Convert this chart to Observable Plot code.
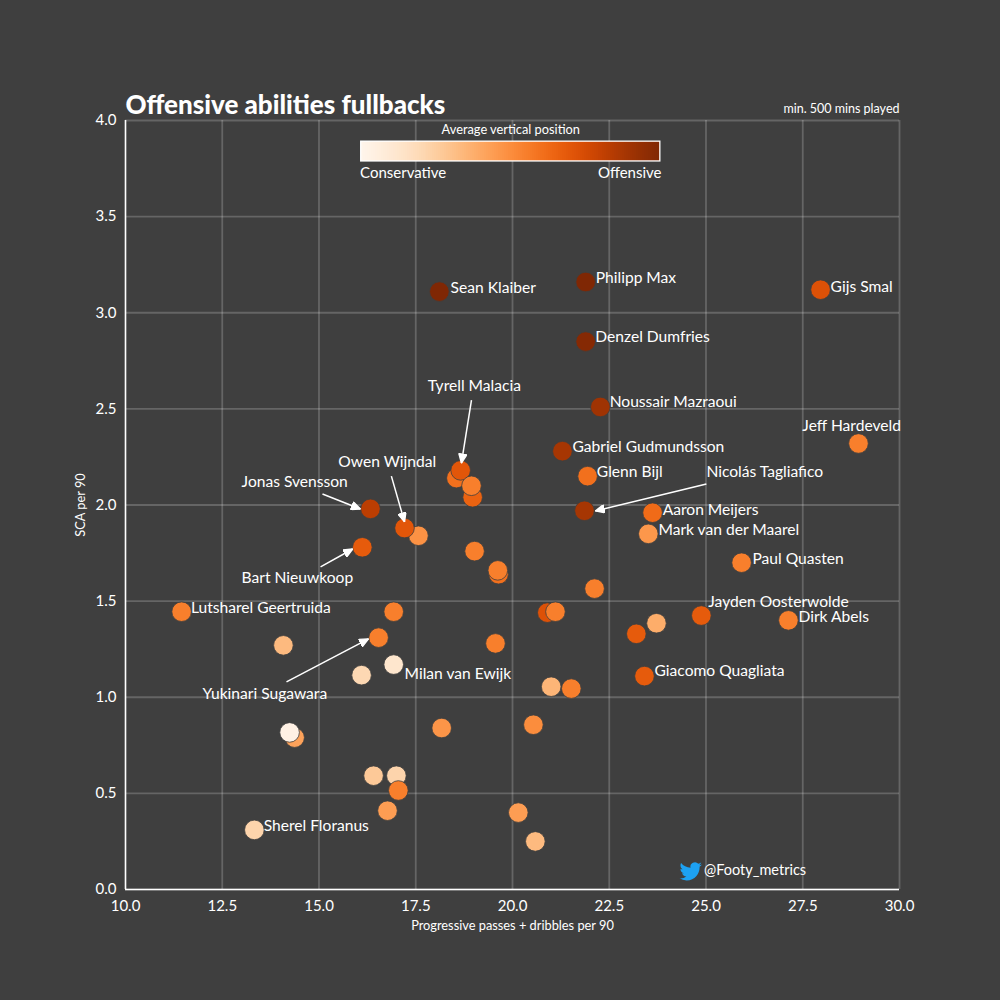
<!DOCTYPE html>
<html>
<head>
<meta charset="utf-8">
<script src="https://cdn.jsdelivr.net/npm/d3@7"></script>
<script src="https://cdn.jsdelivr.net/npm/@observablehq/plot@0.6"></script>
<style>
html,body{margin:0;padding:0;background:#3f3f3f;}
svg{display:block;}
</style>
</head>
<body>
<div id="chart"></div>
<script>
const xTicks = [10,12.5,15,17.5,20,22.5,25,27.5,30];
const yTicks = [0,0.5,1,1.5,2,2.5,3,3.5,4];
// x, y, colour position (0 conservative .. 1 offensive), in drawing order
const px = [18.11,21.89,27.96,21.89,22.27,28.94,21.29,21.94,18.55,18.66,18.97,18.94,16.33,21.86,23.62,23.51,17.57,17.21,16.12,19.02,19.64,19.62,25.92,22.12,11.45,16.93,20.9,21.11,24.88,27.13,23.72,23.2,16.54,14.08,19.56,16.93,16.1,23.41,21.0,21.52,20.54,18.17,14.37,14.24,16.41,17.0,17.05,16.77,20.15,20.59,13.33];
const py = [3.11,3.16,3.12,2.85,2.51,2.32,2.28,2.15,2.14,2.18,2.04,2.10,1.98,1.97,1.96,1.85,1.84,1.88,1.78,1.76,1.64,1.66,1.70,1.565,1.445,1.445,1.44,1.445,1.425,1.40,1.385,1.33,1.31,1.27,1.28,1.17,1.115,1.11,1.055,1.045,0.857,0.84,0.79,0.817,0.592,0.592,0.515,0.41,0.40,0.25,0.31];
const pc = [1,1,.72,.98,.9,.55,.88,.6,.6,.7,.65,.55,.82,.88,.62,.46,.48,.7,.68,.55,.6,.55,.55,.55,.55,.55,.72,.55,.68,.55,.38,.68,.55,.33,.55,.12,.2,.68,.35,.55,.5,.47,.42,.03,.27,.22,.55,.44,.44,.33,.22];
const labelNames = ["Sean Klaiber","Philipp Max","Gijs Smal","Denzel Dumfries","Noussair Mazraoui","Jeff Hardeveld","Gabriel Gudmundsson","Glenn Bijl","Nicolás Tagliafico","Aaron Meijers","Mark van der Maarel","Paul Quasten","Jayden Oosterwolde","Dirk Abels","Lutsharel Geertruida","Giacomo Quagliata","Milan van Ewijk","Sherel Floranus","Tyrell Malacia","Owen Wijndal","Jonas Svensson","Bart Nieuwkoop","Yukinari Sugawara"];
const labelX = [18.40,22.15,28.22,22.14,22.51,27.49,21.55,22.18,25.01,23.88,23.77,26.2,25.06,27.39,11.69,23.67,17.21,13.57,17.81,15.50,13.0,13.0,11.99];
const labelY = [3.127,3.179,3.132,2.873,2.535,2.41,2.301,2.171,2.171,1.974,1.87,1.719,1.496,1.418,1.465,1.138,1.122,0.332,2.618,2.223,2.119,1.62,1.018];
const arrowX1 = [18.94,16.87,15.09,15.04,14.16,25.01];
const arrowY1 = [2.545,2.15,2.057,1.678,1.08,2.109];
const arrowX2 = [18.68,17.21,16.07,15.87,16.28,22.14];
const arrowY2 = [2.218,1.912,1.979,1.771,1.304,1.969];
const barStops = d3.range(0,1,1/150);
const barX = [16.09,23.82], barY = [3.787,3.89];

const points = px.map((x,i)=>({x,y:py[i],c:pc[i]}));
const labels = labelNames.map((name,i)=>({name,x:labelX[i],y:labelY[i]}));
const arrows = arrowX1.map((x1,i)=>({x1,y1:arrowY1[i],x2:arrowX2[i],y2:arrowY2[i]}));
const F = "Lato, 'Open Sans', sans-serif";
const W = "#ffffff";

function head(color){
  const m = document.createElementNS("http://www.w3.org/2000/svg","marker");
  m.setAttribute("viewBox","-10 -5 10 10");
  m.setAttribute("markerUnits","userSpaceOnUse");
  m.setAttribute("markerWidth",10);
  m.setAttribute("markerHeight",9);
  m.setAttribute("orient","auto");
  const p = document.createElementNS("http://www.w3.org/2000/svg","path");
  p.setAttribute("d","M-10,-4.5L0,0L-10,4.5Z");
  p.setAttribute("fill",W);
  m.appendChild(p);
  return m;
}
function bird(index, scales){
  const g = document.createElementNS("http://www.w3.org/2000/svg","g");
  g.setAttribute("transform",`translate(${scales.x(24.33)},${scales.y(0.15)}) scale(0.93)`);
  const p = document.createElementNS("http://www.w3.org/2000/svg","path");
  p.setAttribute("fill","#1da1f2");
  p.setAttribute("d","M23.953 4.57a10 10 0 01-2.825.775 4.958 4.958 0 002.163-2.723c-.951.555-2.005.959-3.127 1.184a4.92 4.92 0 00-8.384 4.482C7.69 8.095 4.067 6.13 1.64 3.162a4.822 4.822 0 00-.666 2.475c0 1.71.87 3.213 2.188 4.096a4.904 4.904 0 01-2.228-.616v.06a4.923 4.923 0 003.946 4.827 4.996 4.996 0 01-2.212.085 4.936 4.936 0 004.604 3.417 9.867 9.867 0 01-6.102 2.105c-.39 0-.779-.023-1.17-.067a13.995 13.995 0 007.557 2.209c9.053 0 13.998-7.496 13.998-13.985 0-.21 0-.42-.015-.63A9.935 9.935 0 0024 4.59z");
  g.appendChild(p);
  return g;
}

const chart = Plot.plot({
  width:1000, height:1000,
  marginLeft:125, marginRight:101, marginTop:120, marginBottom:111,
  style:{background:"#3f3f3f",color:W,fontFamily:F},
  x:{domain:[10,30],label:null},
  y:{domain:[0,4],label:null},
  color:{type:"sequential",scheme:"Oranges",domain:[0,1]},
  marks:[
    Plot.ruleX(xTicks,{stroke:W,strokeOpacity:0.2,strokeWidth:1.8}),
    Plot.ruleY(yTicks,{stroke:W,strokeOpacity:0.2,strokeWidth:1.8}),
    Plot.ruleX([10],{stroke:W,strokeWidth:1.5}),
    Plot.ruleY([0],{stroke:W,strokeWidth:1.5}),
    Plot.axisX({ticks:xTicks,tickSize:0,tickFormat:".1f",tickPadding:11,fontSize:15,fill:W,label:null}),
    Plot.axisY({ticks:yTicks,tickSize:0,tickFormat:".1f",tickPadding:9,fontSize:15,fill:W,label:null}),
    Plot.text(["Progressive passes + dribbles per 90"],{x:20,y:-0.19,fill:W,fontSize:12.8}),
    Plot.text(["SCA per 90"],{x:8.86,y:2,rotate:-90,fill:W,fontSize:12.8}),
    Plot.dot(points,{x:"x",y:"y",r:9.8,fill:"c",stroke:"#3f3f3f",strokeWidth:0.8}),
    Plot.link(arrows,{x1:"x1",y1:"y1",x2:"x2",y2:"y2",stroke:W,strokeWidth:1.5,markerEnd:head}),
    Plot.text(labels,{x:"x",y:"y",text:"name",textAnchor:"start",fill:W,fontSize:15.6}),
    Plot.rect(barStops,{x1:t=>barX[0]+t*(barX[1]-barX[0]),x2:t=>Math.min(barX[1],barX[0]+(t+1/150)*(barX[1]-barX[0])+0.04),y1:barY[0],y2:barY[1],fill:t=>t,shapeRendering:"crispEdges"}),
    Plot.rect([0],{x1:barX[0],x2:barX[1],y1:barY[0],y2:barY[1],stroke:W,strokeWidth:1.3,fill:"none"}),
    Plot.text(["Average vertical position"],{x:(barX[0]+barX[1])/2,y:3.95,fill:W,fontSize:12.8}),
    Plot.text(["Conservative"],{x:barX[0]-0.03,y:3.726,textAnchor:"start",fill:W,fontSize:15}),
    Plot.text(["Offensive"],{x:barX[1]+0.03,y:3.726,textAnchor:"end",fill:W,fontSize:15}),
    Plot.text(["Offensive abilities fullbacks"],{x:10,y:4.075,textAnchor:"start",fill:W,fontSize:26,fontWeight:900}),
    Plot.text(["min. 500 mins played"],{x:30,y:4.06,textAnchor:"end",fill:W,fontSize:12.5}),
    Plot.text(["@Footy_metrics"],{x:24.95,y:0.1,textAnchor:"start",fill:W,fontSize:14.5}),
    bird
  ]
});
document.getElementById("chart").appendChild(chart);
</script>
</body>
</html>
